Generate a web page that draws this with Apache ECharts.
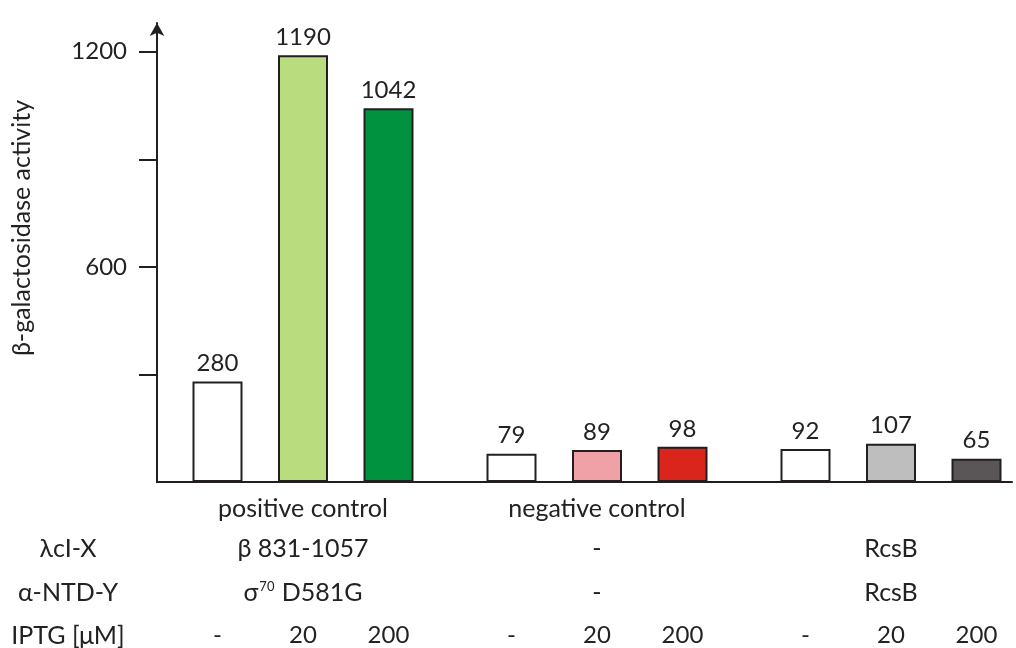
<!DOCTYPE html>
<html>
<head>
<meta charset="utf-8">
<script src="https://cdn.jsdelivr.net/npm/echarts@6/dist/echarts.min.js"></script>
<style>
html,body{margin:0;padding:0;background:#fff;}
#chart{width:1016px;height:648px;}
</style>
</head>
<body>
<div id="chart"></div>
<script>
// ---- data ----
const groupNames = ['positive control', 'negative control', ''];
const lambdaRow = ['β 831-1057', '-', 'RcsB'];
const alphaRow = ['{t|σ}{sup|70}{t| D581G}', '-', 'RcsB'];
const iptgLevels = ['-', '20', '200'];
// values per IPTG level, one per group
const valuesNone = [280, 79, 92];
const values20 = [1190, 89, 107];
const values200 = [1042, 98, 65];
const colorsNone = ['#ffffff', '#ffffff', '#ffffff'];
const colors20 = ['#b9dc7e', '#f0a1a8', '#bebebe'];
const colors200 = ['#00923f', '#da251d', '#5a5657'];
const yTicks = [300, 600, 900, 1200];
const yLabels = [600, 1200];
const yTitle = 'β-galactosidase activity';
const rowTitles = ['λcI-X', 'α-NTD-Y', 'IPTG [μM]'];

const FONT = 'Lato';
const TXT = '#222222';
const EDGE = '#231f20';
const FS = 25;   // text
const FN = 24;   // numbers

const levelValues = [valuesNone, values20, values200];
const levelColors = [colorsNone, colors20, colors200];

const series = [];
levelValues.forEach((vals, li) => {
  const stack = 's' + li;
  // zero-height helper bar carrying the IPTG label under each bar
  series.push({
    type: 'bar', stack: stack, barWidth: 50, barGap: '71%', clip: false,
    data: vals.map(() => 0),
    itemStyle: { color: 'rgba(0,0,0,0)', borderWidth: 0 },
    label: {
      show: true, position: 'bottom', distance: 141,
      formatter: () => iptgLevels[li],
      fontFamily: FONT, fontSize: FN, color: TXT
    },
    silent: true
  });
  series.push({
    type: 'bar', stack: stack, barWidth: 50, barGap: '71%', clip: false,
    data: vals.map((v, i) => ({ value: v, itemStyle: { color: levelColors[li][i] } })),
    itemStyle: { borderColor: EDGE, borderWidth: 2 },
    label: {
      show: true, position: 'top', distance: 6,
      fontFamily: FONT, fontSize: FN, color: TXT
    }
  });
});

const hiddenCat = (labels, margin, rich) => ({
  type: 'category', gridIndex: 0, position: 'bottom', boundaryGap: false,
  data: labels,
  axisLine: { show: false }, axisTick: { show: false },
  axisLabel: { show: true, margin: margin, interval: 0, fontFamily: FONT, fontSize: FS, color: TXT, rich: rich }
});

const richSup = {
  t: { fontFamily: FONT, fontSize: FS, color: TXT },
  sup: { fontFamily: FONT, fontSize: 13, color: TXT, verticalAlign: 'top', padding: [0, 1, 12, 1] }
};

const chart = echarts.init(document.getElementById('chart'), null, { renderer: 'canvas' });
chart.setOption({
  animation: false,
  backgroundColor: '#ffffff',
  grid: [
    { left: 303, top: 23, width: 588, height: 459, containLabel: false },
    { left: 157, top: 23, width: 855, height: 459, containLabel: false }
  ],
  xAxis: [
    {
      type: 'category', data: groupNames, boundaryGap: false,
      axisLine: { show: false },
      axisTick: { show: false },
      axisLabel: { margin: 14, interval: 0, fontFamily: FONT, fontSize: FS, color: TXT }
    },
    hiddenCat(lambdaRow, 54, null),
    hiddenCat(alphaRow, 98, richSup),
    {
      type: 'value', gridIndex: 1, min: 0, max: 1,
      axisLine: { show: true, lineStyle: { color: EDGE, width: 2 } },
      axisTick: { show: false }, axisLabel: { show: false }, splitLine: { show: false }
    }
  ],
  yAxis: [
    {
      type: 'value', min: 0, max: 1280, offset: 146,
      splitLine: { show: false },
      axisLine: { show: true, symbol: ['none', 'arrow'], symbolSize: [11, 13], lineStyle: { color: EDGE, width: 2 } },
      axisTick: { show: true, length: 18, inside: false, customValues: yTicks, lineStyle: { color: EDGE, width: 2 } },
      axisLabel: { customValues: yLabels, formatter: v => String(v), margin: 30, fontFamily: FONT, fontSize: FN, color: TXT }
    },
    { type: 'value', gridIndex: 1, min: 0, max: 1, show: false }
  ],
  graphic: [
    { type: 'text', x: 22, y: 228, rotation: Math.PI / 2,
      style: { text: yTitle, font: FS + 'px ' + FONT, fill: TXT, align: 'center', verticalAlign: 'middle' } },
    { type: 'text', x: 68, y: 549,
      style: { text: rowTitles[0], font: FS + 'px ' + FONT, fill: TXT, align: 'center', verticalAlign: 'middle' } },
    { type: 'text', x: 68, y: 593,
      style: { text: rowTitles[1], font: FS + 'px ' + FONT, fill: TXT, align: 'center', verticalAlign: 'middle' } },
    { type: 'text', x: 68, y: 636,
      style: { text: rowTitles[2], font: FS + 'px ' + FONT, fill: TXT, align: 'center', verticalAlign: 'middle' } }
  ],
  series: series
});
</script>
</body>
</html>
